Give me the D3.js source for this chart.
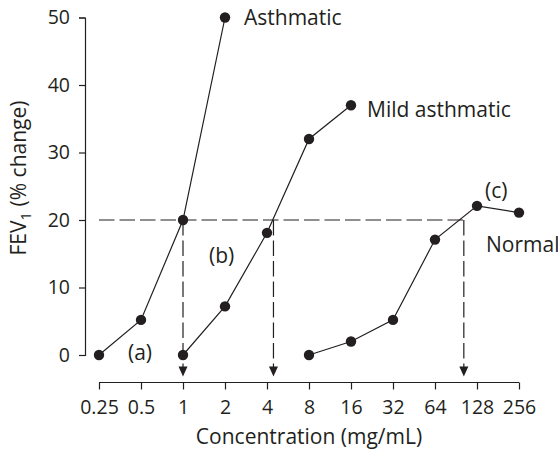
<!DOCTYPE html>
<html>
<head>
<meta charset="utf-8">
<script src="https://cdn.jsdelivr.net/npm/d3@7"></script>
<style>
body { margin: 0; background: #fff; }
text { font-family: "Open Sans", "Noto Sans", sans-serif; fill: #231f20; }
.axis path, .axis line { stroke: #231f20; stroke-width: 1.2; }
</style>
</head>
<body>
<div id="chart"></div>
<script>
// concentrations on the x axis (mg/mL)
var xTicks = [0.25, 0.5, 1, 2, 4, 8, 16, 32, 64, 128, 256];
var xTickLabels = ['0.25', '0.5', '1', '2', '4', '8', '16', '32', '64', '128', '256'];
var yTicks = [0, 10, 20, 30, 40, 50];

// FEV1 % change, per group
var asthmaticConc = [0.25, 0.5, 1, 2];
var asthmaticFev = [0, 5.2, 20, 50];
var mildConc = [1, 2, 4, 8, 16];
var mildFev = [0, 7.2, 18.1, 32, 37];
var normalConc = [8, 16, 32, 64, 128, 256];
var normalFev = [0, 2, 5.2, 17.1, 22.1, 21.1];

// PC20: concentration giving a 20% change
var pc20Level = 20;
var pc20Conc = [1, 4.45, 103];

var width = 558, height = 451;

var svg = d3.select('#chart').append('svg')
	.attr('width', width)
	.attr('height', height);

var x = d3.scaleLog().base(2)
	.domain([0.25, 256])
	.range([99, 519]);

var y = d3.scaleLinear()
	.domain([0, 50])
	.range([355, 17.5]);

var axisY = 382.5;
var yAxisX = 85;

// axes
svg.append('g')
	.attr('class', 'axis')
	.attr('transform', 'translate(0,' + axisY + ')')
	.call(d3.axisBottom(x).tickValues(xTicks)
		.tickFormat(function(d, i) { return xTickLabels[i]; })
		.tickSizeOuter(0).tickSize(7).tickPadding(11))
	.call(function(g) {
		g.selectAll('text').style('font-size', '19.5px').style('font-family', null).attr('fill', null);
		g.select('.domain').attr('d', 'M' + x(0.25) + ',0H' + x(256));
	});

svg.append('g')
	.attr('class', 'axis')
	.attr('transform', 'translate(' + yAxisX + ',0)')
	.call(d3.axisLeft(y).tickValues(yTicks).tickSizeOuter(0).tickSize(6).tickPadding(9))
	.call(function(g) {
		g.selectAll('text').style('font-size', '19.5px').style('font-family', null).attr('fill', null);
	});

svg.append('text')
	.attr('x', x(8))
	.attr('y', 444)
	.attr('text-anchor', 'middle')
	.style('font-size', '21px')
	.text('Concentration (mg/mL)');

var ylab = svg.append('text')
	.attr('transform', 'translate(26,' + 178 + ') rotate(-90)')
	.attr('text-anchor', 'middle')
	.style('font-size', '21px');
ylab.append('tspan').text('FEV');
ylab.append('tspan').attr('dy', 5).style('font-size', '15px').text('1');
ylab.append('tspan').attr('dy', -5).text(' (% change)');

// dashed PC20 guides
var dash = '15.5,5';
svg.append('line')
	.attr('x1', x(0.25)).attr('x2', x(d3.max(pc20Conc)))
	.attr('y1', y(pc20Level)).attr('y2', y(pc20Level))
	.attr('stroke', '#231f20').attr('stroke-width', 1.2)
	.attr('stroke-dasharray', dash);

svg.selectAll('line.drop').data(pc20Conc).enter()
	.append('line')
	.attr('class', 'drop')
	.attr('x1', function(d) { return x(d); })
	.attr('x2', function(d) { return x(d); })
	.attr('y1', y(pc20Level))
	.attr('y2', axisY - 14)
	.attr('stroke', '#231f20').attr('stroke-width', 1.2)
	.attr('stroke-dasharray', dash);

svg.selectAll('path.arrow').data(pc20Conc).enter()
	.append('path')
	.attr('class', 'arrow')
	.attr('d', function(d) {
		var cx = x(d), tip = axisY - 6;
		return 'M' + (cx - 4.5) + ',' + (tip - 10) + 'L' + (cx + 4.5) + ',' + (tip - 10) + 'L' + cx + ',' + tip + 'Z';
	})
	.attr('fill', '#231f20');

// series
var series = [
	{conc: asthmaticConc, fev: asthmaticFev},
	{conc: mildConc, fev: mildFev},
	{conc: normalConc, fev: normalFev}
];

var line = d3.line()
	.x(function(d) { return x(d[0]); })
	.y(function(d) { return y(d[1]); });

series.forEach(function(s) {
	var pts = s.conc.map(function(c, i) { return [c, s.fev[i]]; });
	svg.append('path')
		.datum(pts)
		.attr('d', line)
		.attr('fill', 'none')
		.attr('stroke', '#231f20')
		.attr('stroke-width', 1.2);
	svg.selectAll(null).data(pts).enter()
		.append('circle')
		.attr('cx', function(d) { return x(d[0]); })
		.attr('cy', function(d) { return y(d[1]); })
		.attr('r', 5.2)
		.attr('fill', '#231f20');
});

// labels
function label(txt, px, py) {
	svg.append('text').attr('x', px).attr('y', py).style('font-size', '21px').text(txt);
}
label('Asthmatic', x(2) + 19, y(50) + 7.5);
label('Mild asthmatic', x(16) + 16, y(37) + 11.5);
label('Normal', x(128) + 9, y(pc20Level) + 32);
label('(a)', x(0.5) - 13, y(0) + 5);
label('(b)', x(2) - 16, y(pc20Level) + 43);
label('(c)', x(128) + 8, y(pc20Level) - 22);
</script>
</body>
</html>
